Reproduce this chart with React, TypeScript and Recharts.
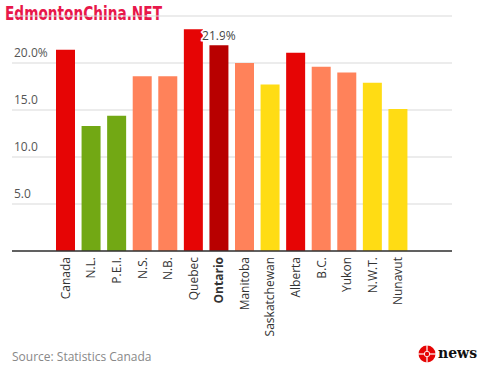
import { BarChart, Bar, XAxis, YAxis, CartesianGrid, Cell } from 'recharts'

const PROVINCES = [
  'Canada', 'N.L.', 'P.E.I.', 'N.S.', 'N.B.', 'Quebec', 'Ontario',
  'Manitoba', 'Saskatchewan', 'Alberta', 'B.C.', 'Yukon', 'N.W.T.', 'Nunavut',
]
const RATES = [21.4, 13.3, 14.4, 18.6, 18.6, 23.6, 21.9, 20.0, 17.7, 21.1, 19.6, 19.0, 17.9, 15.1]
const BAR_COLORS = [
  '#e60505', '#72a814', '#72a814', '#ff825a', '#ff825a', '#e60505', '#b80000',
  '#ff825a', '#ffdc14', '#e60505', '#ff825a', '#ff825a', '#ffdc14', '#ffdc14',
]
const Y_TICKS = [5, 10, 15, 20]
const HIGHLIGHT = 'Ontario'

const FONT = '"Open Sans", sans-serif'

const chartData = PROVINCES.map((name, i) => ({ name, rate: RATES[i] }))

function YTick({ y, payload }: any) {
  const v = payload.value as number
  return (
    <text x={14} y={y - 6} fill="#555" fontSize={12} fontFamily={FONT}>
      {v === 20 ? '20.0%' : v.toFixed(1)}
    </text>
  )
}

function XTick({ x, y, payload }: any) {
  const bold = payload.value === HIGHLIGHT
  return (
    <g transform={`translate(${x},${y})`}>
      <text
        transform="rotate(-90)"
        x={2}
        y={4}
        textAnchor="end"
        fill="#333"
        fontSize={12}
        fontWeight={bold ? 700 : 400}
        fontFamily={FONT}
      >
        {payload.value}
      </text>
    </g>
  )
}

function ValueLabel({ x, y, width, index }: any) {
  if (PROVINCES[index] !== HIGHLIGHT) return null
  return (
    <text
      x={x + width / 2}
      y={y - 5}
      textAnchor="middle"
      fill="#444"
      fontSize={12}
      fontFamily={FONT}
      stroke="#fff"
      strokeWidth={3}
      paintOrder="stroke"
    >
      {RATES[index].toFixed(1)}%
    </text>
  )
}

export default function App() {
  return (
    <div style={{ position: 'absolute', left: 0, top: 0, width: 480, height: 377, background: '#fff' }}>
      <div
        style={{
          position: 'absolute', left: 5, top: 2, color: '#e8174a', fontWeight: 700,
          fontSize: 19, fontFamily: '"DejaVu Sans", sans-serif', whiteSpace: 'nowrap',
          transform: 'scaleX(0.72)', transformOrigin: 'left top',
        }}
      >
        EdmontonChina.NET
      </div>
      <BarChart
        width={480}
        height={377}
        data={chartData}
        margin={{ top: 16, right: 28, left: 12, bottom: 0 }}
        barSize={19}
      >
        <CartesianGrid vertical={false} stroke="#d9d9d9" />
        <YAxis
          mirror
          width={40}
          domain={[0, 25]}
          ticks={Y_TICKS}
          axisLine={false}
          tickLine={false}
          tick={<YTick />}
        />
        <XAxis
          dataKey="name"
          height={126}
          interval={0}
          padding={{ left: 41, right: 41 }}
          axisLine={{ stroke: '#333', strokeWidth: 1.5 }}
          tickLine={false}
          tick={<XTick />}
        />
        <Bar dataKey="rate" isAnimationActive={false} label={<ValueLabel />}>
          {chartData.map((d, i) => (
            <Cell key={d.name} fill={BAR_COLORS[i]} />
          ))}
        </Bar>
      </BarChart>
      <div style={{ position: 'absolute', left: 12, top: 348, color: '#888', fontSize: 12, fontFamily: FONT }}>
        Source: Statistics Canada
      </div>
      <svg style={{ position: 'absolute', left: 418, top: 343 }} width={60} height={22}>
        <circle cx={9} cy={11} r={8.5} fill="#e60505" />
        <line x1={0} y1={11} x2={18} y2={11} stroke="#fff" strokeWidth={1.2} />
        <line x1={9} y1={2} x2={9} y2={20} stroke="#fff" strokeWidth={1.2} />
        <circle cx={9} cy={11} r={3} fill="#fff" />
        <circle cx={9} cy={11} r={2.2} fill="#e60505" />
        <text x={20} y={15} fontSize={14} fontWeight={700} fill="#111" fontFamily='"DejaVu Serif", serif'>
          news
        </text>
      </svg>
    </div>
  )
}
